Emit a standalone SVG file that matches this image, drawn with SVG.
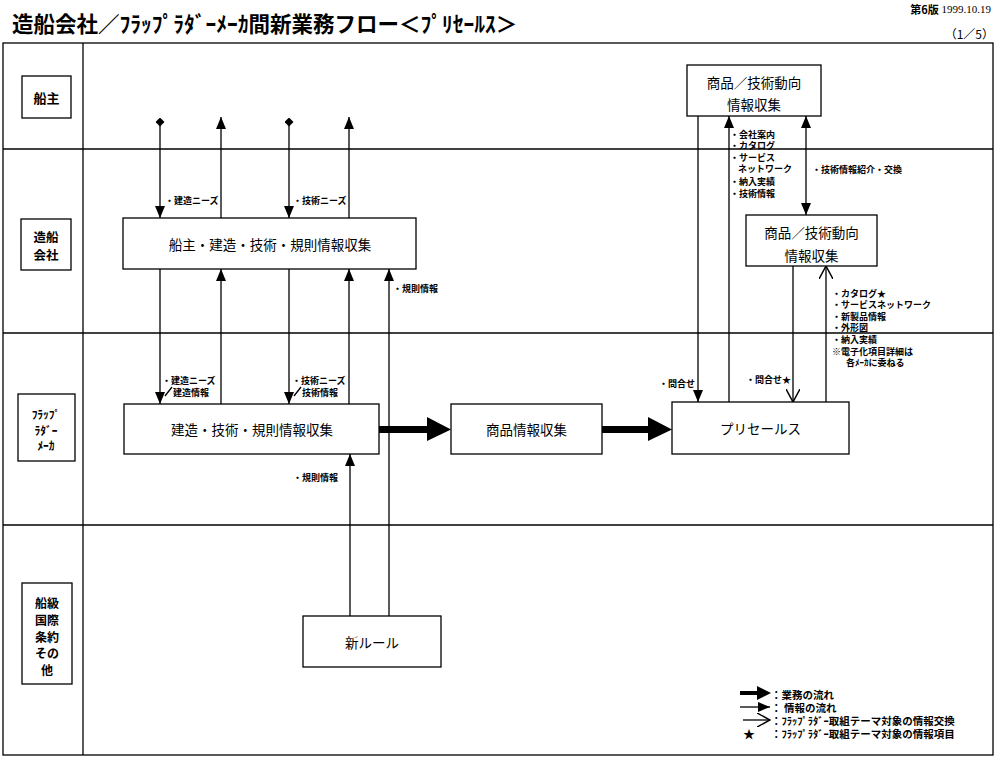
<svg xmlns="http://www.w3.org/2000/svg" width="1000" height="759" viewBox="0 0 1000 759">
<style>
text{font-family:"Noto Sans CJK JP","Noto Sans",sans-serif;fill:#000}
.box{fill:#fff;stroke:#000;stroke-width:1.3}
.lane{fill:none;stroke:#000;stroke-width:1.3}
.node{font-size:13.5px;text-anchor:middle;dominant-baseline:central}
.lbl{font-size:12.5px;font-weight:bold;text-anchor:middle;dominant-baseline:central}
.sm{font-size:9px;font-weight:bold;dominant-baseline:central}
.lg{font-size:10.5px;font-weight:bold;dominant-baseline:central}
.ln{fill:none;stroke:#000;stroke-width:1.3}
</style>
<defs>
<marker id="arr" viewBox="0 0 12 10" refX="12" refY="5" markerWidth="12" markerHeight="10" markerUnits="userSpaceOnUse" orient="auto-start-reverse"><path d="M0,0 L12,5 L0,10 z" fill="#000"/></marker>
<marker id="dia" viewBox="0 0 10 10" refX="5" refY="5" markerWidth="9" markerHeight="9" markerUnits="userSpaceOnUse" orient="auto"><path d="M5,0 L10,5 L5,10 L0,5 z" fill="#000"/></marker>
<marker id="open" viewBox="0 0 14 14" refX="13" refY="7" markerWidth="14" markerHeight="14" markerUnits="userSpaceOnUse" orient="auto"><path d="M0,0 L13,7 L0,14" fill="none" stroke="#000" stroke-width="1.5"/></marker>
</defs>
<rect width="1000" height="759" fill="#fff"/>
<!-- header -->
<text x="12" y="22" style="font-size:21.5px;font-weight:bold;dominant-baseline:central">造船会社／ﾌﾗｯﾌﾟﾗﾀﾞｰﾒｰｶ間新業務フロー＜ﾌﾟﾘｾｰﾙｽ＞</text>
<text x="991" y="9" style="font-size:11px;text-anchor:end;dominant-baseline:central"><tspan style="font-weight:bold">第6版</tspan><tspan style="font-family:'Liberation Serif',serif"> 1999.10.19</tspan></text>
<text x="994" y="33" style="font-size:12px;text-anchor:end;dominant-baseline:central">（1／5）</text>
<!-- frame and lanes -->
<g id="lanes">
<rect class="lane" x="3" y="43" width="990" height="712"/>
<line class="lane" x1="83" y1="43" x2="83" y2="755"/>
<line class="lane" x1="3" y1="149" x2="993" y2="149"/>
<line class="lane" x1="3" y1="333" x2="993" y2="333"/>
<line class="lane" x1="3" y1="525" x2="993" y2="525"/>
</g>
<g id="lane-shipowner"><rect class="box" x="22" y="76" width="49" height="42"/><text class="lbl" x="46.5" y="97" style="font-size:13px">船主</text></g>
<g id="lane-shipyard"><rect class="box" x="21" y="219" width="50" height="51"/><text class="lbl" x="46" y="236.5">造船<tspan x="46" dy="17">会社</tspan></text></g>
<g id="lane-maker"><rect class="box" x="18" y="394" width="57" height="67"/><text class="lbl" x="46" y="414" style="font-size:11.5px">ﾌﾗｯﾌﾟ<tspan x="46" dy="15.5">ﾗﾀﾞｰ</tspan><tspan x="46" dy="15.5">ﾒｰｶ</tspan></text></g>
<g id="lane-class"><rect class="box" x="22" y="583" width="50" height="101"/><text class="lbl" x="47" y="602" style="font-size:12px">船級<tspan x="47" dy="16.8">国際</tspan><tspan x="47" dy="16.8">条約</tspan><tspan x="47" dy="16.8">その</tspan><tspan x="47" dy="16.8">他</tspan></text></g>
<!-- connectors -->
<g id="connectors">
<path class="ln" d="M160,122 L160,218" marker-start="url(#dia)" marker-end="url(#arr)"/>
<path class="ln" d="M221,218 L221,117" marker-end="url(#arr)"/>
<path class="ln" d="M289,122 L289,218" marker-start="url(#dia)" marker-end="url(#arr)"/>
<path class="ln" d="M349,218 L349,117" marker-end="url(#arr)"/>
<path class="ln" d="M160,269 L160,404" marker-end="url(#arr)"/>
<path class="ln" d="M221,404 L221,269" marker-end="url(#arr)"/>
<path class="ln" d="M289,269 L289,404" marker-end="url(#arr)"/>
<path class="ln" d="M349,404 L349,269" marker-end="url(#arr)"/>
<path class="ln" d="M389,616 L389,269" marker-end="url(#arr)"/>
<path class="ln" d="M350,616 L350,454" marker-end="url(#arr)"/>
<polygon points="379,426 427,426 427,417 451,429.5 427,441 427,433 379,433" fill="#000"/>
<polygon points="602,426 648,426 648,417 672,429.5 648,441 648,433 602,433" fill="#000"/>
<path class="ln" d="M698,116 L698,402" marker-end="url(#arr)"/>
<path class="ln" d="M729,402 L729,116" marker-end="url(#arr)"/>
<path class="ln" d="M806,116 L806,215" marker-start="url(#arr)" marker-end="url(#arr)"/>
<path class="ln" d="M793,266 L793,402" marker-end="url(#open)"/>
<path class="ln" d="M826,402 L826,266" marker-end="url(#open)"/>
<line class="ln" x1="165" y1="396" x2="172" y2="387" stroke-width="1"/>
<line class="ln" x1="294" y1="396" x2="301" y2="387" stroke-width="1"/>
<text class="sm" x="165" y="200">・建造ニーズ</text>
<text class="sm" x="293" y="200">・技術ニーズ</text>
<text class="sm" x="393" y="288">・規則情報</text>
<text class="sm" x="162" y="380">・建造ニーズ</text>
<text class="sm" x="173" y="392">建造情報</text>
<text class="sm" x="292" y="380">・技術ニーズ</text>
<text class="sm" x="302" y="392">技術情報</text>
<text class="sm" x="293" y="477">・規則情報</text>
<text class="sm" x="659" y="383">・問合せ</text>
<text class="sm" x="746" y="379">・問合せ★</text>
<text class="sm" x="812" y="169">・技術情報紹介・交換</text>
<text class="sm" x="730" y="134">・会社案内</text>
<text class="sm" x="730" y="145.5">・カタログ</text>
<text class="sm" x="730" y="157">・サービス</text>
<text class="sm" x="738" y="168.5">ネットワーク</text>
<text class="sm" x="730" y="181">・納入実績</text>
<text class="sm" x="730" y="193">・技術情報</text>
<text class="sm" x="832" y="293">・カタログ★</text>
<text class="sm" x="832" y="304.5">・サービスネットワーク</text>
<text class="sm" x="832" y="316">・新製品情報</text>
<text class="sm" x="832" y="327.5">・外形図</text>
<text class="sm" x="832" y="339">・納入実績</text>
<text class="sm" x="832" y="351">※電子化項目詳細は</text>
<text class="sm" x="846" y="362.5">各ﾒｰｶに委ねる</text>
</g>
<!-- nodes -->
<g id="n-owner-info"><rect class="box" x="123" y="218" width="293" height="51"/><text class="node" x="270" y="243.5">船主・建造・技術・規則情報収集</text></g>
<g id="n-maker-info"><rect class="box" x="124" y="404" width="255" height="50"/><text class="node" x="252" y="429">建造・技術・規則情報収集</text></g>
<g id="n-product-info"><rect class="box" x="451" y="404" width="151" height="50"/><text class="node" x="526.5" y="429">商品情報収集</text></g>
<g id="n-presales"><rect class="box" x="672" y="402" width="177" height="52"/><text class="node" x="760.5" y="428">プリセールス</text></g>
<g id="n-trend-owner"><rect class="box" x="687" y="65" width="134" height="51"/><text class="node" x="754" y="82">商品／技術動向</text><text class="node" x="754" y="104">情報収集</text></g>
<g id="n-trend-yard"><rect class="box" x="746" y="215" width="131" height="51"/><text class="node" x="811.5" y="232">商品／技術動向</text><text class="node" x="811.5" y="255">情報収集</text></g>
<g id="n-newrule"><rect class="box" x="303" y="616" width="138" height="51"/><text class="node" x="372" y="641.5">新ルール</text></g>
<!-- legend -->
<g id="legend">
<polygon points="740,691 757,691 757,686 771,693 757,700 757,695 740,695" fill="#000"/>
<path class="ln" d="M740,707 L770,707" marker-end="url(#arr)"/>
<path class="ln" d="M743,720 L770,720" marker-end="url(#open)"/>
<text x="749" y="733" style="font-size:12px;text-anchor:middle;dominant-baseline:central">★</text>
<text class="lg" x="771" y="694">：業務の流れ</text>
<text class="lg" x="771" y="707">： 情報の流れ</text>
<text class="lg" x="771" y="720">：ﾌﾗｯﾌﾟﾗﾀﾞｰ取組テーマ対象の情報交換</text>
<text class="lg" x="771" y="733">：ﾌﾗｯﾌﾟﾗﾀﾞｰ取組テーマ対象の情報項目</text>
</g>
</svg>
